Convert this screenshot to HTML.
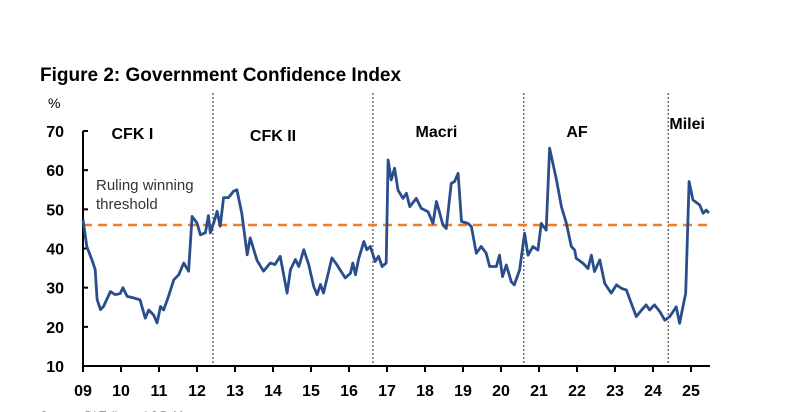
<!DOCTYPE html>
<html><head><meta charset="utf-8"><style>
body{margin:0;background:#fff;width:800px;height:412px;overflow:hidden;font-family:"Liberation Sans",Arial,sans-serif}
</style></head><body>
<svg id="c" width="800" height="412" style="position:absolute;left:0;top:0">
<text x="40" y="81" font-size="19" font-weight="bold" fill="#000">Figure 2: Government Confidence Index</text>
<text x="48" y="108" font-size="14" fill="#000">%</text>
<text x="40" y="420" font-size="12" fill="#333">Source: Di Tella and J.P. Morgan</text>
</svg>
<script>
const yTicks=[10,20,30,40,50,60,70];
const xLabels=["09","10","11","12","13","14","15","16","17","18","19","20","21","22","23","24","25"];
const threshold=46;
const dividers=[3.42,7.63,11.6,15.4];
const periods=["CFK I","CFK II","Macri","AF","Milei"];
const periodX=[1.3,5.0,9.3,13.0,15.9];
const periodY=[68,67.5,68.5,68.5,70.5];
const times=[0,.1,.24,.32,.37,.46,.54,.72,.85,.98,1.05,1.16,1.33,1.5,1.64,1.73,1.86,1.95,2.04,2.12,2.25,2.39,2.52,2.65,2.78,2.87,3.0,3.09,3.22,3.3,3.35,3.44,3.53,3.61,3.7,3.83,3.96,4.05,4.18,4.32,4.4,4.58,4.75,4.93,5.05,5.19,5.37,5.46,5.59,5.68,5.81,5.94,6.07,6.16,6.25,6.33,6.55,6.68,6.9,7.04,7.1,7.17,7.25,7.39,7.47,7.56,7.69,7.78,7.87,7.98,8.03,8.11,8.2,8.29,8.42,8.51,8.6,8.77,8.9,9.08,9.21,9.3,9.39,9.47,9.56,9.69,9.78,9.87,9.96,10.13,10.22,10.35,10.48,10.61,10.7,10.88,10.96,11.04,11.14,11.27,11.35,11.49,11.62,11.71,11.84,11.97,12.06,12.19,12.28,12.46,12.59,12.72,12.85,12.94,12.98,13.16,13.29,13.38,13.46,13.6,13.73,13.9,14.04,14.17,14.3,14.43,14.56,14.7,14.82,14.91,15.04,15.18,15.31,15.44,15.61,15.7,15.86,15.95,16.05,16.23,16.32,16.4,16.47];
const values=[47.4,40.5,37,34.6,27,24.4,25.2,29,28.2,28.5,30,27.8,27.4,26.9,22.2,24.3,23,21,25.2,24.3,27.8,32,33.3,36.3,34.2,48.2,46.5,43.5,44,48.4,44,46.5,49.5,45.7,53,53,54.6,55,49,38.4,42.7,37,34.2,36.3,35.9,38,28.6,34.6,37.2,35.4,39.7,35.9,30.3,28.2,30.8,28.6,37.6,35.9,32.5,33.7,36.3,33.3,37.2,41.8,39.7,40.5,36.7,38,35.4,36.3,62.6,57.5,60.5,54.9,52.8,54.1,50.7,52.8,50.3,49.4,46.4,52,49,46,45.1,56.6,57.1,59.2,46.9,46.4,45.6,38.8,40.5,38.8,35.4,35.4,38.3,32.8,35.8,31.5,30.7,34.5,43.9,38.3,40.5,39.6,46.4,44.7,65.6,57.5,50.7,46.4,40.5,39.6,37.5,36.2,34.9,38.3,34.1,37.1,31.1,28.6,30.7,29.8,29.4,26,22.6,24.3,25.6,24.3,25.6,23.9,21.7,22.6,25.1,20.9,28.6,57.1,52.4,51.1,49,49.8,49.1];

const svg=document.getElementById('c');
const NS='http://www.w3.org/2000/svg';
const x0=83,pxPerYr=38,yTop=131,yBot=366,vMin=10,vMax=70,xEnd=710;
const X=t=>x0+t*pxPerYr;
const Y=v=>yBot-(v-vMin)/(vMax-vMin)*(yBot-yTop);
function mk(tag,attrs,parent){const e=document.createElementNS(NS,tag);for(const k in attrs)e.setAttribute(k,attrs[k]);(parent||svg).appendChild(e);return e;}

let ya=mk('line',{x1:x0,y1:yTop,x2:x0,y2:yBot,stroke:'#000','stroke-width':2});


let xa=mk('line',{x1:x0,y1:yBot,x2:xEnd,y2:yBot,stroke:'#000','stroke-width':2});


yTicks.forEach(v=>{
  mk('line',{x1:x0,y1:Y(v),x2:x0+5,y2:Y(v),stroke:'#000','stroke-width':2});
  const t=mk('text',{x:64,y:Y(v)+6,'text-anchor':'end','font-size':16,'font-weight':'bold',fill:'#000'});
  t.textContent=v;
  
  
});
xLabels.forEach((l,i)=>{
  mk('line',{x1:X(i),y1:yBot,x2:X(i),y2:yBot+6,stroke:'#000','stroke-width':2});
  const t=mk('text',{x:X(i),y:396,'text-anchor':'middle','font-size':16,'font-weight':'bold',fill:'#000'});
  t.textContent=l;
  
  
});
dividers.forEach(d=>{
  const l=mk('line',{x1:X(d),y1:93,x2:X(d),y2:yBot,stroke:'#222','stroke-width':1,'stroke-dasharray':'2,2'});
  
  
});
periods.forEach((p,i)=>{
  const t=mk('text',{x:X(periodX[i]),y:Y(periodY[i]),'text-anchor':'middle','font-size':16,'font-weight':'bold',fill:'#000'});
  t.textContent=p;
  
  
});
const th=mk('line',{x1:x0,y1:Y(threshold),x2:xEnd,y2:Y(threshold),stroke:'#f07f2a','stroke-width':2.5,'stroke-dasharray':'9,6'});


const tl=mk('text',{x:96,y:190,'font-size':15,fill:'#333'});


tl.innerHTML='<tspan x="96">Ruling winning</tspan><tspan x="96" dy="19">threshold</tspan>';
const d=times.map((t,i)=>(i?'L':'M')+X(t).toFixed(1)+','+Y(values[i]).toFixed(1)).join('');
const ln=mk('path',{d:d,fill:'none',stroke:'#2a4d8c','stroke-width':2.8,'stroke-linejoin':'round'});


</script>
</body></html>
